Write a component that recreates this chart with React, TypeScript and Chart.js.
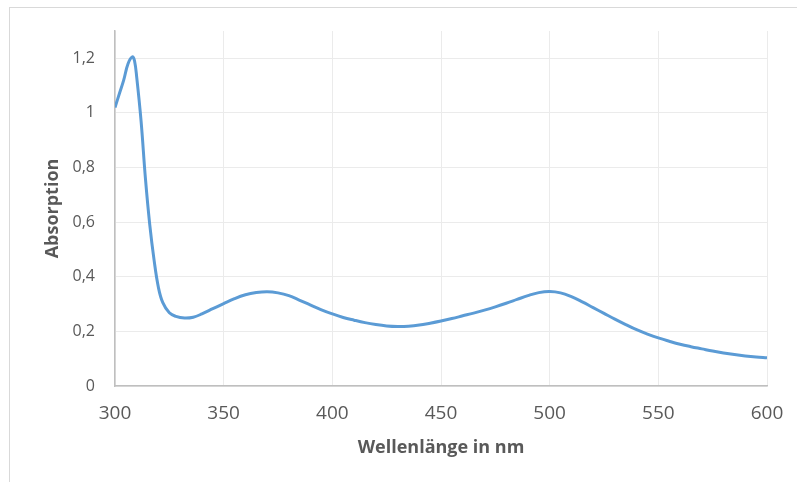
import React, { useEffect, useRef } from "react";
import { Chart, registerables } from "chart.js";

Chart.register(...registerables);

const wavelengths = [
  300, 302, 304, 306, 308, 309, 310, 312, 314, 316, 318, 320, 322, 325, 328, 332, 336, 340, 345, 350,
  355, 360, 365, 370, 375, 380, 385, 390, 395, 400, 405, 410, 415, 420, 425, 430, 435, 440, 445, 450,
  455, 460, 465, 470, 475, 480, 485, 490, 495, 500, 505, 510, 515, 520, 525, 530, 535, 540, 545, 550,
  555, 560, 565, 570, 575, 580, 585, 590, 595, 600,
];
const absorption = [
  1.02, 1.07, 1.12, 1.18, 1.205, 1.19, 1.13, 0.97, 0.76, 0.59, 0.46, 0.36, 0.305, 0.268, 0.255, 0.249, 0.252, 0.264, 0.283, 0.302,
  0.32, 0.334, 0.342, 0.345, 0.341, 0.331, 0.314, 0.296, 0.279, 0.264, 0.251, 0.241, 0.232, 0.225, 0.22, 0.218, 0.219, 0.223, 0.23, 0.238,
  0.247, 0.257, 0.267, 0.278, 0.29, 0.303, 0.317, 0.331, 0.342, 0.346, 0.341, 0.327, 0.308, 0.287, 0.266, 0.245, 0.225, 0.206, 0.19, 0.176,
  0.164, 0.153, 0.144, 0.136, 0.128, 0.121, 0.115, 0.11, 0.106, 0.103,
];
const xTicks = [300, 350, 400, 450, 500, 550, 600];
const yTicks = [0, 0.2, 0.4, 0.6, 0.8, 1, 1.2];
const xTitle = "Wellenlänge in nm";
const yTitle = "Absorption";

export default function App() {
  const ref = useRef<HTMLCanvasElement>(null);
  useEffect(() => {
    const chart = new Chart(ref.current!, {
      type: "line",
      data: {
        datasets: [
          {
            data: wavelengths.map((w, i) => ({ x: w, y: absorption[i] })),
            borderColor: "#5b9bd5",
            borderWidth: 3,
            pointRadius: 0,
            tension: 0.4,
            fill: false,
          },
        ],
      },
      options: {
        responsive: false,
        maintainAspectRatio: false,
        animation: false,
        layout: { padding: { left: 0, right: 30, top: 31, bottom: 0 } },
        plugins: { legend: { display: false }, tooltip: { enabled: false } },
        scales: {
          x: {
            type: "linear",
            min: 300,
            max: 600,
            afterBuildTicks: (s: any) => {
              s.ticks = xTicks.map((v) => ({ value: v }));
            },
            afterFit: (s: any) => {
              s.height = 96;
              s.paddingLeft = 0;
              s.paddingRight = 0;
            },
            grid: { color: "#ebebeb", lineWidth: 1, drawTicks: false },
            border: { color: "#bfbfbf", width: 1.5 },
            ticks: {
              color: "#595959",
              font: { family: "'Open Sans'", size: 19 },
              padding: 16,
              maxRotation: 0,
              callback: (v: any) => String(v),
            },
            title: {
              display: true,
              text: xTitle,
              color: "#595959",
              font: { family: "'Open Sans'", size: 18, weight: "bold" },
              padding: { top: 0, bottom: 23 },
            },
          },
          y: {
            type: "linear",
            min: 0,
            max: 1.3,
            afterBuildTicks: (s: any) => {
              s.ticks = yTicks.map((v) => ({ value: v }));
            },
            afterFit: (s: any) => {
              s.width = 115;
              s.paddingTop = 0;
              s.paddingBottom = 0;
            },
            grid: { color: "#ebebeb", lineWidth: 1, drawTicks: false },
            border: { color: "#bfbfbf", width: 1.5 },
            ticks: {
              color: "#595959",
              font: { family: "'Open Sans'", size: 16 },
              padding: 20,
              callback: (v: any) => String(v).replace(".", ","),
            },
            title: {
              display: true,
              text: yTitle,
              color: "#595959",
              font: { family: "'Open Sans'", size: 18, weight: "bold" },
              padding: { top: 42, bottom: 0 },
            },
          },
        },
      },
    });
    return () => chart.destroy();
  }, []);

  return (
    <div
      style={{
        position: "fixed",
        left: 0,
        top: 0,
        width: 797,
        height: 482,
        overflow: "hidden",
        background: "#ffffff",
      }}
    >
      <div
        style={{
          position: "absolute",
          left: 9,
          top: 7,
          width: 900,
          height: 600,
          border: "1px solid #d9d9d9",
          boxSizing: "border-box",
        }}
      />
      <canvas
        ref={ref}
        width={797}
        height={482}
        style={{ position: "absolute", left: 0, top: 0, width: 797, height: 482 }}
      />
    </div>
  );
}
